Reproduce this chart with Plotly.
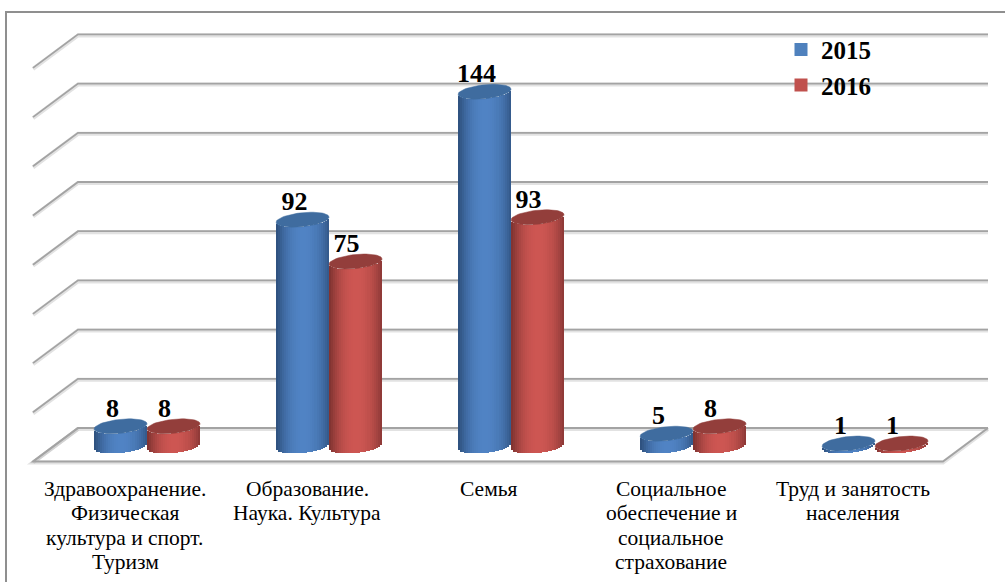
import math
import plotly.graph_objects as go

categories = [["Здравоохранение.", "Физическая", "культура и спорт.", "Туризм"],
              ["Образование.", "Наука. Культура"],
              ["Семья"],
              ["Социальное", "обеспечение и", "социальное", "страхование"],
              ["Труд и занятость", "населения"]]
series_names = ["2015", "2016"]
values_2015 = [8, 92, 144, 5, 1]
values_2016 = [8, 75, 93, 8, 1]
grid_values = [0, 20, 40, 60, 80, 100, 120, 140, 160]

W, H = 1005, 582
PX_X = 182.0            # pixels per category
X0 = 147.0              # pixel of category 0
PX_Y = 2.46             # pixels per value unit
Y0 = 446.0              # pixel of value 0
M_T, M_B = 12, 0
FONT = "Liberation Serif"


def dx(px):
    return px / PX_X


def dy(px):
    return px / PX_Y


half = dx(26.5)
ell = dy(7.0)
tilt = dy(2.6)
N = 26
BLUE = {"edge": (47, 82, 128), "mid": (80, 131, 196), "cap": "#3f6c9f"}
RED = {"edge": (130, 52, 50), "mid": (205, 86, 82), "cap": "#933e3b"}


def mix(c, t):
    # cylinder shading: t in [-1, 1]
    k = max(0.0, 1 - abs(t - 0.05) ** 2.2)
    rgb = [round(a + (b - a) * k) for a, b in zip(c["edge"], c["mid"])]
    return "rgb(%d,%d,%d)" % tuple(rgb)


fig = go.Figure()

# wall, side wall and floor lines (under the bars)
shapes = []
wall_l, wall_r = dx(78 - X0), dx(988 - X0)
side_dx, side_dy = dx(-45), dy(-33.5)
wall_shift = dy(18)


def add_path(path):
    for col, wid, off in (("rgba(190,190,190,0.45)", 4, dy(-1)), ("#a3a3a3", 1.8, 0)):
        p = path(off)
        shapes.append(dict(type="path", path=p, xref="x", yref="y", layer="below",
                           line=dict(color=col, width=wid)))


for g in grid_values:
    yy = g + wall_shift
    add_path(lambda o, yy=yy: f"M{wall_l+side_dx},{yy+side_dy+o} L{wall_l},{yy+o} L{wall_r},{yy+o}")
fl = wall_shift
add_path(lambda o: f"M{wall_l},{fl+o} L{wall_l+side_dx},{fl+side_dy+o} "
                   f"L{wall_r+side_dx},{fl+side_dy+o} L{wall_r},{fl+o}")

# outer frame (left and top only are visible in the picture)
shapes.append(dict(type="line", xref="paper", yref="paper", x0=6 / W, x1=6 / W, y0=0, y1=1,
                   line=dict(color="#8f8f8f", width=2)))
shapes.append(dict(type="line", xref="paper", yref="paper", x0=5 / W, x1=1, y0=1, y1=1,
                   line=dict(color="#8f8f8f", width=2)))

series = [(values_2015, BLUE, -half), (values_2016, RED, half)]
xs_idx = list(range(len(categories)))
for vals, col, off in series:
    for s in range(N):
        t = -1 + (2 * s + 1) / N
        arc = math.sqrt(max(0, 1 - t * t))
        xs = [i + off + t * half for i in xs_idx]
        base = [tilt * t - ell * arc for _ in vals]
        heights = [v for v in vals]
        fig.add_trace(go.Bar(x=xs, y=heights, base=base, width=2 * half / N * 1.25,
                             marker=dict(color=mix(col, t), line=dict(width=0)),
                             showlegend=False, hoverinfo="skip"))

# top ellipses
for vals, col, off in series:
    cx, cy = [], []
    for i, v in zip(xs_idx, vals):
        for a in range(0, 61):
            th = 2 * math.pi * a / 60
            cx.append(i + off + half * math.cos(th))
            cy.append(v + ell * math.sin(th) + tilt * math.cos(th))
        cx.append(None)
        cy.append(None)
    fig.add_trace(go.Scatter(x=cx, y=cy, mode="lines", fill="toself", fillcolor=col["cap"],
                             line=dict(width=0.5, color=col["cap"]), showlegend=False, hoverinfo="skip"))

# data labels
for vals, off, nudge in ((values_2015, -half, dx(-8)), (values_2016, half, dx(-9))):
    fig.add_trace(go.Scatter(x=[i + off + nudge for i in xs_idx],
                             y=[v + ell + dy(9) for v in vals],
                             mode="text", text=[str(v) for v in vals], textposition="middle center",
                             textfont=dict(family=FONT, size=26, color="black", weight="bold"),
                             showlegend=False, hoverinfo="skip"))

# legend entries
for name, col in zip(series_names, (BLUE, RED)):
    fig.add_trace(go.Scatter(x=[None], y=[None], mode="markers", name=name, legendgroup=name,
                             marker=dict(symbol="square", size=13, color="#%02x%02x%02x" % (
                                 (79, 129, 189) if col is BLUE else (192, 80, 77)))))

# category labels, line by line (their line spacing is tighter than Plotly's <br>)
label_shift = dx(-22)
LABEL_FIRST, LABEL_STEP = dy(Y0 - 488.5), dy(24.6)
annotations = []
for i, lines in enumerate(categories):
    for k, line in enumerate(lines):
        annotations.append(dict(x=i + label_shift, y=LABEL_FIRST - k * LABEL_STEP, xref="x", yref="y",
                                text=line, showarrow=False, xanchor="center", yanchor="middle",
                                font=dict(family=FONT, size=21.5, color="black")))

fig.update_layout(
    width=W, height=H, margin=dict(l=0, r=0, t=M_T, b=M_B),
    paper_bgcolor="white", plot_bgcolor="white",
    barmode="overlay", bargap=0, shapes=shapes, annotations=annotations,
    font=dict(family=FONT, color="black"),
    xaxis=dict(range=[-X0 / PX_X, (W - X0) / PX_X], showgrid=False, zeroline=False, showline=False,
               showticklabels=False, ticks=""),
    yaxis=dict(range=[(Y0 - (H - M_B)) / PX_Y, (Y0 - M_T) / PX_Y], showgrid=False, zeroline=False,
               showline=False, showticklabels=False, ticks=""),
    legend=dict(x=781 / W, y=0.974, xanchor="left", yanchor="top", bgcolor="rgba(0,0,0,0)",
                traceorder="grouped", tracegroupgap=0,
                font=dict(family=FONT, size=25, color="black", weight="bold")),
)

fig.write_html("out.html", config={"displayModeBar": False}, post_script="document.body.style.margin='0';")
